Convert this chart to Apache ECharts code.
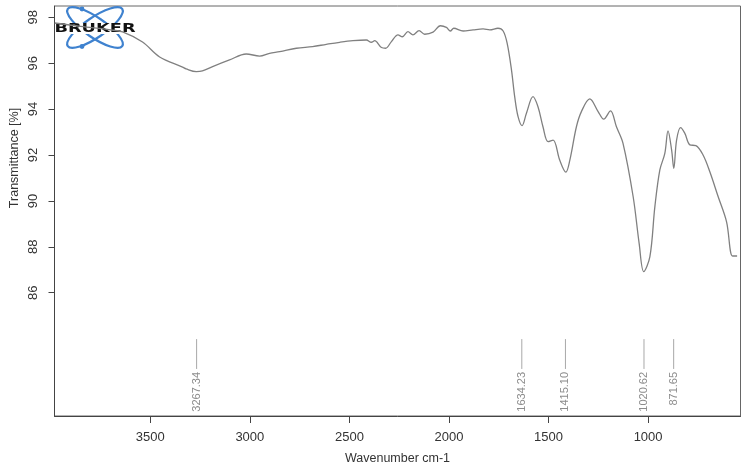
<!DOCTYPE html>
<html>
<head>
<meta charset="utf-8">
<script src="https://cdn.jsdelivr.net/npm/echarts@6/dist/echarts.min.js"></script>
<style>
  html, body { margin: 0; padding: 0; background: #fff; }
  #main { width: 750px; height: 467px; }
</style>
</head>
<body>
<div id="main"></div>
<script>
// spectrum (cm-1 / %T)
var wavenumbers = [3980, 3850, 3700, 3639, 3539, 3453, 3338, 3320, 3269, 3238, 3187, 3102, 3018, 2951, 2901, 2850,
  2766, 2685, 2616, 2549, 2482, 2415, 2390, 2373, 2339, 2318, 2289, 2256, 2234, 2206, 2181, 2150, 2122, 2080,
  2043, 2013, 1993, 1976, 1929, 1879, 1829, 1795, 1754, 1728, 1708, 1686, 1670, 1653, 1633, 1611, 1578, 1553,
  1528, 1502, 1477, 1444, 1413, 1393, 1360, 1335, 1293, 1251, 1223, 1189, 1159, 1126, 1075, 1045, 1022, 991,
  966, 941, 916, 900, 882, 871, 857, 837, 816, 790, 760, 724, 690, 648, 606, 576, 553];
var transmittance = [97.75, 97.6, 97.45, 97.36, 96.92, 96.27, 95.83, 95.75, 95.63, 95.66, 95.85, 96.14, 96.40, 96.31, 96.43, 96.50,
  96.65, 96.72, 96.82, 96.91, 96.98, 97.01, 96.91, 96.98, 96.68, 96.65, 96.94, 97.23, 97.15, 97.37, 97.23, 97.42, 97.26, 97.35,
  97.63, 97.56, 97.40, 97.52, 97.40, 97.45, 97.49, 97.45, 97.52, 97.40, 96.87, 95.70, 94.54, 93.67, 93.28, 93.82, 94.54, 94.10,
  93.23, 92.58, 92.65, 91.78, 91.25, 91.78, 93.23, 93.89, 94.44, 93.89, 93.56, 93.92, 93.23, 92.51, 90.18, 88.15, 86.92, 87.57,
  89.75, 91.35, 92.07, 93.05, 92.22, 91.42, 92.65, 93.19, 92.95, 92.44, 92.41, 92.00, 91.27, 90.18, 89.09, 87.60, 87.60];

// picked peaks
var peakPositions = [3267.34, 1634.23, 1415.10, 1020.62, 871.65];
var peakLabels = ['3267.34', '1634.23', '1415.10', '1020.62', '871.65'];

var xTicks = [1000, 1500, 2000, 2500, 3000, 3500];
var yTicks = [86, 88, 90, 92, 94, 96, 98];

var spectrum = [];
for (var i = 0; i < wavenumbers.length; i++) {
  spectrum.push([wavenumbers[i], transmittance[i]]);
}
var peaks = [];
for (var j = 0; j < peakPositions.length; j++) {
  peaks.push([peakPositions[j], j]);
}

var chart = echarts.init(document.getElementById('main'), null, { renderer: 'canvas' });

var option = {
  animation: false,
  backgroundColor: '#fff',
  textStyle: { fontFamily: 'Liberation Sans, Arial, sans-serif' },
  grid: {
    left: 54.5, right: 9.5, top: 6, bottom: 51,
    show: true, borderColor: '#666', borderWidth: 1,
    containLabel: false, outerBoundsMode: 'none'
  },
  xAxis: {
    type: 'value',
    inverse: true,
    min: 536, max: 3981,
    name: 'Wavenumber cm-1',
    nameLocation: 'middle',
    nameGap: 36,
    nameTextStyle: { fontSize: 12.5, color: '#333' },
    axisLine: { show: true, onZero: false, lineStyle: { color: '#444', width: 1 } },
    axisTick: { show: true, length: 7, customValues: xTicks, lineStyle: { color: '#444' } },
    axisLabel: {
      customValues: xTicks, fontSize: 13, color: '#333', margin: 15,
      formatter: function (v) { return String(v); }
    },
    splitLine: { show: false }
  },
  yAxis: {
    type: 'value',
    min: 80.63, max: 98.49,
    axisLine: { show: true, onZero: false, lineStyle: { color: '#444', width: 1 } },
    axisTick: { show: true, length: 6, customValues: yTicks, lineStyle: { color: '#444' } },
    axisLabel: {
      customValues: yTicks, fontSize: 13, color: '#333', rotate: 90, margin: 15,
      formatter: function (v) { return String(v); }
    },
    splitLine: { show: false }
  },
  series: [
    {
      type: 'line',
      data: spectrum,
      showSymbol: false,
      smooth: 0.35,
      lineStyle: { color: '#808080', width: 1.3 },
      z: 2
    },
    {
      // peak picks: short tick plus rotated label under it
      type: 'custom',
      data: peaks,
      renderItem: function (params, api) {
        var v = api.value(0);
        var top = api.coord([v, 83.98]);
        var bot = api.coord([v, 82.68]);
        var lab = api.coord([v, 82.55]);
        return {
          type: 'group',
          children: [
            {
              type: 'line',
              shape: { x1: top[0], y1: top[1], x2: bot[0], y2: bot[1] },
              style: { stroke: '#a8a8a8', lineWidth: 1 }
            },
            {
              type: 'text',
              x: lab[0], y: lab[1],
              rotation: Math.PI / 2,
              style: {
                text: peakLabels[api.value(1)],
                fill: '#8c8c8c',
                fontSize: 11,
                fontFamily: 'Liberation Sans, Arial, sans-serif',
                align: 'right',
                verticalAlign: 'middle'
              }
            }
          ]
        };
      },
      z: 3
    }
  ],
  graphic: [
    {
      type: 'text',
      x: 15, y: 158,
      rotation: Math.PI / 2,
      style: {
        text: 'Transmittance [%]',
        fontSize: 12.5,
        fill: '#333',
        fontFamily: 'Liberation Sans, Arial, sans-serif',
        align: 'center',
        verticalAlign: 'middle'
      }
    },
    // Bruker logo
    {
      type: 'group',
      z: 100,
      children: [
        {
          type: 'ellipse',
          shape: { cx: 0, cy: 0, rx: 33, ry: 10 },
          x: 95, y: 27.5, rotation: 0.6,
          style: { fill: null, stroke: '#3f82cf', lineWidth: 2.2 }
        },
        {
          type: 'ellipse',
          shape: { cx: 0, cy: 0, rx: 33, ry: 10 },
          x: 95, y: 27.5, rotation: -0.6,
          style: { fill: null, stroke: '#3f82cf', lineWidth: 2.2 }
        },
        { type: 'circle', shape: { cx: 82, cy: 9, r: 2.4 }, style: { fill: '#3f82cf' } },
        { type: 'circle', shape: { cx: 82, cy: 46.5, r: 2.4 }, style: { fill: '#3f82cf' } },
        {
          type: 'rect',
          shape: { x: 56, y: 23, width: 79, height: 11 },
          style: { fill: '#fff' }
        },
        {
          type: 'text',
          x: 95, y: 28.5,
          scaleX: 1.42,
          style: {
            text: 'BRUKER',
            fontSize: 12.5,
            fontWeight: 'bold',
            fill: '#111',
            fontFamily: 'DejaVu Sans, sans-serif',
            align: 'center',
            verticalAlign: 'middle'
          }
        }
      ]
    }
  ]
};

chart.setOption(option);
</script>
</body>
</html>
